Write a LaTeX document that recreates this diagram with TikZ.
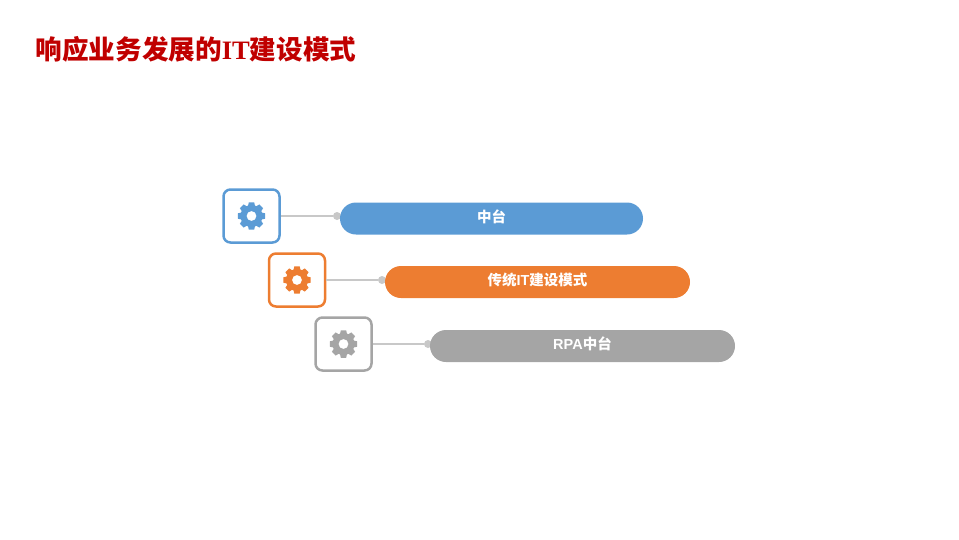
\documentclass[tikz,border=0pt]{standalone}
\usepackage{fontspec}
\setmainfont{Liberation Sans}
\newfontfamily\cjk{Noto Sans CJK SC}
\newfontfamily\itfont{Liberation Serif}
\usetikzlibrary{shapes.misc}
\definecolor{bluebar}{HTML}{5B9BD5}
\definecolor{orangebar}{HTML}{ED7D31}
\definecolor{graybar}{HTML}{A5A5A5}
\definecolor{titlered}{HTML}{C00000}
\definecolor{linkgray}{HTML}{C8C8C8}
\tikzset{
  iconbox/.style={draw=#1, line width=2.5pt, fill=white, rounded corners=7pt, minimum width=56pt, minimum height=53pt, inner sep=0pt},
  pillbar/.style={rounded rectangle, fill=#1, minimum width=305pt, minimum height=32pt, inner sep=0pt, text=white, text height=10pt, text depth=3pt, font=\bfseries\fontsize{14.5}{16}\selectfont},
  linkdot/.style={circle, fill=linkgray, minimum size=8pt, inner sep=0pt},
  linkline/.style={draw=linkgray, line width=1.2pt},
  pics/gearicon/.style={code={
    \fill[#1, even odd rule] (-18:11)
      \foreach \a in {0,45,...,315} { -- (\a-18:11) -- (\a-11:14) -- (\a+11:14) -- (\a+18:11) } -- cycle
      (0,0) circle (5);
  }}
}
\begin{document}
\begin{tikzpicture}[x=1pt,y=-1pt]
\useasboundingbox (0,0) rectangle (959,539);
\node[anchor=west, text=titlered, inner sep=0pt, font=\cjk\bfseries\fontsize{26.6}{30}\selectfont] (title) at (35.5,49) {响应业务发展的{\itfont IT}建设模式};
% rows
\node[iconbox=bluebar] (box1) at (251.5,216) {};
\node[iconbox=orangebar] (box2) at (297,280) {};
\node[iconbox=graybar] (box3) at (343.5,344) {};
\pic at (box1.center) {gearicon=bluebar};
\pic at (box2.center) {gearicon=orangebar};
\pic at (box3.center) {gearicon=graybar};
\node[linkdot] (dot1) at (337,216) {};
\node[linkdot] (dot2) at (382,280) {};
\node[linkdot] (dot3) at (428,344) {};
\node[pillbar=bluebar, minimum width=303pt] (bar1) at (491.5,218.5) {{\cjk 中台}};
\node[pillbar=orangebar] (bar2) at (537.5,282) {{\cjk 传统}IT{\cjk 建设模式}};
\node[pillbar=graybar] (bar3) at (582.5,346) {RPA{\cjk 中台}};
\draw[linkline] (box1) -- (dot1);
\draw[linkline] (box2) -- (dot2);
\draw[linkline] (box3) -- (dot3);
\end{tikzpicture}
\end{document}
